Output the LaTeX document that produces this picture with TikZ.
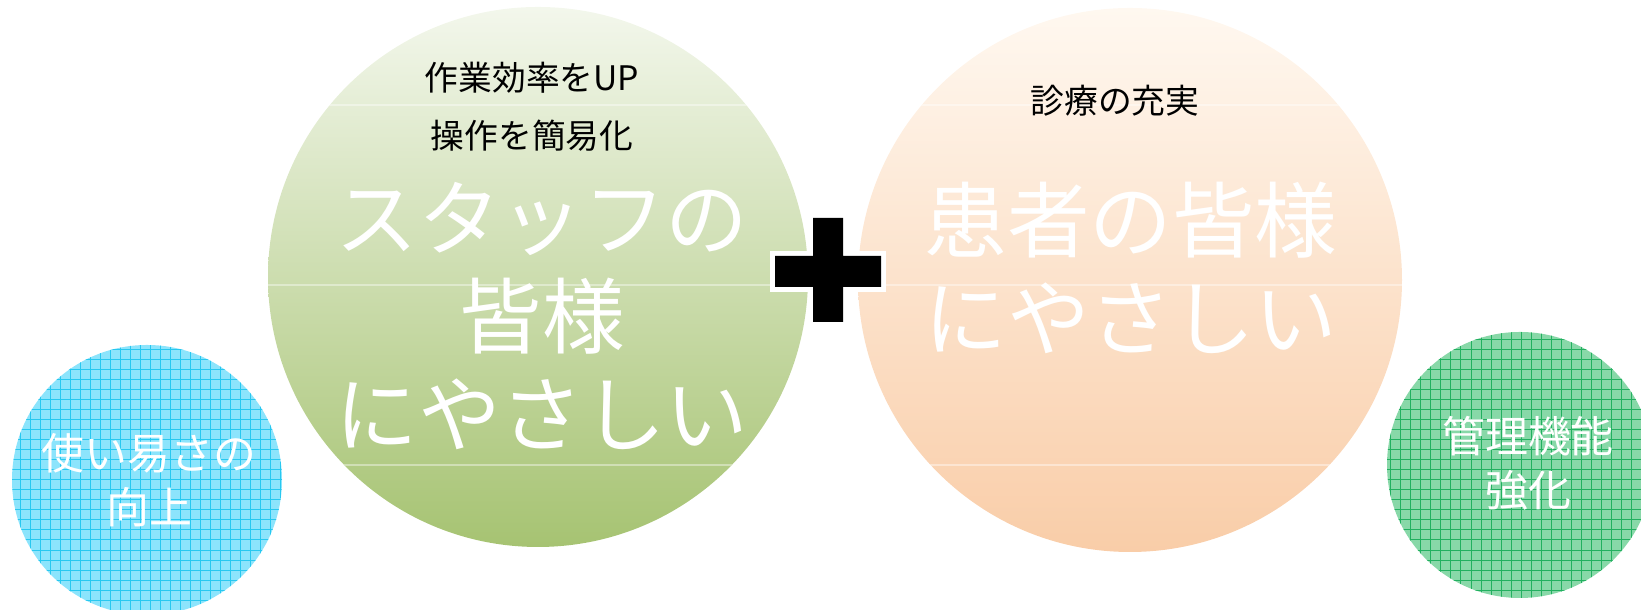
\documentclass[tikz,border=0pt]{standalone}
\usepackage{fontspec}
\newfontfamily\jpfont{Noto Sans CJK JP}
\definecolor{skyfill}{RGB}{140,228,252}
\definecolor{skyline}{RGB}{40,200,240}
\definecolor{mintfill}{RGB}{136,216,168}
\definecolor{mintline}{RGB}{34,176,96}
\definecolor{leaftop}{RGB}{243,247,236}
\definecolor{leafmid}{RGB}{202,221,170}
\definecolor{leafbot}{RGB}{166,195,114}
\definecolor{peachtop}{RGB}{255,248,240}
\definecolor{peachmid}{RGB}{252,226,203}
\definecolor{peachbot}{RGB}{249,205,168}
\begin{document}
\begin{tikzpicture}[x=0.01cm,y=0.01cm,
  bigtxt/.style={text=white,align=center,font=\jpfont\fontsize{23.5pt}{28pt}\selectfont},
  subtxt/.style={text=black,align=center,font=\jpfont\fontsize{9.6pt}{11pt}\selectfont},
  smalltxt/.style={text=white,align=center,font=\jpfont\fontsize{12.2pt}{15.4pt}\selectfont},
  sliceline/.style={white,opacity=0.4,line width=0.3pt}]
\useasboundingbox (0,0) rectangle (1641,610);
%%% the two big circles
\shade[top color=leaftop, middle color=leafmid, bottom color=leafbot] (538,333) circle (270);
\shade[top color=peachtop, middle color=peachmid, bottom color=peachbot] (1130,330) circle (272);
% thin slice lines across the big circles
\begin{scope}
\clip (538,333) circle (270);
\foreach \yy in {505,325,145}
  \draw[sliceline] (260,\yy) -- (820,\yy);
\end{scope}
\begin{scope}
\clip (1130,330) circle (272);
\foreach \yy in {505,325,145}
  \draw[sliceline] (850,\yy) -- (1410,\yy);
\end{scope}
%%% the two small grid circles
\fill[skyfill] (147,130) circle (135);
\begin{scope}
\clip (147,130) circle (135);
\draw[skyline, line width=0.25pt, step=0.1cm] (0,-10) grid (290,270);
\end{scope}
\fill[mintfill] (1520,145) circle (133);
\begin{scope}
\clip (1520,145) circle (133);
\draw[mintline, line width=0.25pt, step=0.1cm] (1380,0) grid (1660,280);
\end{scope}
%%% plus sign
\fill[black, preaction={draw=white, line width=2.8pt}]
  (813,392) -- (843,392) -- (843,354) -- (881,354) -- (881,323) -- (843,323)
  -- (843,288) -- (813,288) -- (813,323) -- (775,323) -- (775,354) -- (813,354) -- cycle;
%%% texts
\node[subtxt] (workUp) at (532,532) {作業効率をUP};
\node[subtxt] (easyOp) at (532,474) {操作を簡易化};
\node[bigtxt] (staffTxt) at (542,294) {スタッフの\\皆様\\にやさしい};
\node[subtxt] (careTxt) at (1115,509) {診療の充実};
\node[bigtxt] (patientTxt) at (1131,342) {患者の皆様\\にやさしい};
\node[smalltxt] (useTxt) at (149,130) {使い易さの\\向上};
\node[smalltxt] (mgmtTxt) at (1528,147) {管理機能\\強化};
\end{tikzpicture}
\end{document}
